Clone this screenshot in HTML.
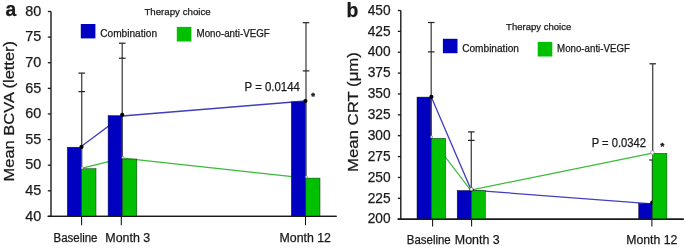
<!DOCTYPE html>
<html><head><meta charset="utf-8"><style>
html,body{margin:0;padding:0;background:#fff;}
body{width:685px;height:248px;overflow:hidden;}
svg{display:block;font-family:"Liberation Sans", sans-serif;will-change:transform;}
text{fill:#1a1a1a;stroke:#1a1a1a;stroke-width:0.25px;}
</style></head><body>
<svg width="685" height="248" viewBox="0 0 685 248">
<rect width="685" height="248" fill="#fff"/>
<line x1="51.0" y1="11.5" x2="51.0" y2="216.4" stroke="#1a1a1a" stroke-width="1.4"/>
<line x1="47.8" y1="216.4" x2="336.6" y2="216.4" stroke="#1a1a1a" stroke-width="1.4"/>
<line x1="47.8" y1="11.50" x2="51.0" y2="11.50" stroke="#1a1a1a" stroke-width="1.3"/>
<text x="41.2" y="15.70" font-size="14.4" text-anchor="end" font-weight="normal" >80</text>
<line x1="47.8" y1="37.11" x2="51.0" y2="37.11" stroke="#1a1a1a" stroke-width="1.3"/>
<text x="41.2" y="41.31" font-size="14.4" text-anchor="end" font-weight="normal" >75</text>
<line x1="47.8" y1="62.73" x2="51.0" y2="62.73" stroke="#1a1a1a" stroke-width="1.3"/>
<text x="41.2" y="66.92" font-size="14.4" text-anchor="end" font-weight="normal" >70</text>
<line x1="47.8" y1="88.34" x2="51.0" y2="88.34" stroke="#1a1a1a" stroke-width="1.3"/>
<text x="41.2" y="92.54" font-size="14.4" text-anchor="end" font-weight="normal" >65</text>
<line x1="47.8" y1="113.95" x2="51.0" y2="113.95" stroke="#1a1a1a" stroke-width="1.3"/>
<text x="41.2" y="118.15" font-size="14.4" text-anchor="end" font-weight="normal" >60</text>
<line x1="47.8" y1="139.56" x2="51.0" y2="139.56" stroke="#1a1a1a" stroke-width="1.3"/>
<text x="41.2" y="143.76" font-size="14.4" text-anchor="end" font-weight="normal" >55</text>
<line x1="47.8" y1="165.18" x2="51.0" y2="165.18" stroke="#1a1a1a" stroke-width="1.3"/>
<text x="41.2" y="169.38" font-size="14.4" text-anchor="end" font-weight="normal" >50</text>
<line x1="47.8" y1="190.79" x2="51.0" y2="190.79" stroke="#1a1a1a" stroke-width="1.3"/>
<text x="41.2" y="194.99" font-size="14.4" text-anchor="end" font-weight="normal" >45</text>
<line x1="47.8" y1="216.40" x2="51.0" y2="216.40" stroke="#1a1a1a" stroke-width="1.3"/>
<text x="41.2" y="220.60" font-size="14.4" text-anchor="end" font-weight="normal" >40</text>
<line x1="81.6" y1="216.4" x2="81.6" y2="225.20000000000002" stroke="#111" stroke-width="1.05"/>
<line x1="121.3" y1="216.4" x2="121.3" y2="225.20000000000002" stroke="#111" stroke-width="1.05"/>
<line x1="305.5" y1="216.4" x2="305.5" y2="225.20000000000002" stroke="#111" stroke-width="1.05"/>
<text x="53.5" y="241.6" font-size="12" textLength="44.0" lengthAdjust="spacingAndGlyphs">Baseline</text>
<text x="105.3" y="241.6" font-size="12" textLength="44.89999999999999" lengthAdjust="spacingAndGlyphs">Month 3</text>
<text x="279.5" y="241.6" font-size="12" textLength="51.5" lengthAdjust="spacingAndGlyphs">Month 12</text>
<polyline points="81.5,146.3 122.2,116.0 305.5,101.0" fill="none" stroke="#4040bc" stroke-width="1.3"/>
<polyline points="82.2,168.1 122.6,158.1 306,178.1" fill="none" stroke="#38bc38" stroke-width="1.2"/>
<rect x="67.3" y="147.2" width="14.200000000000003" height="69.20000000000002" fill="#0000c0" stroke="#101040" stroke-width="0.5"/>
<rect x="108.1" y="115.6" width="14.300000000000011" height="100.80000000000001" fill="#0000c0" stroke="#101040" stroke-width="0.5"/>
<rect x="291.3" y="101.9" width="14.5" height="114.5" fill="#0000c0" stroke="#101040" stroke-width="0.5"/>
<rect x="81.5" y="168.7" width="14.5" height="47.70000000000002" fill="#00c000" stroke="#103010" stroke-width="0.5"/>
<rect x="122.4" y="159.0" width="14.400000000000006" height="57.400000000000006" fill="#00c000" stroke="#103010" stroke-width="0.5"/>
<rect x="305.8" y="178.1" width="14.199999999999989" height="38.30000000000001" fill="#00c000" stroke="#103010" stroke-width="0.5"/>
<line x1="81.7" y1="168.7" x2="81.7" y2="73.1" stroke="#4c4c4c" stroke-width="1.35"/>
<line x1="78.4" y1="73.1" x2="85.0" y2="73.1" stroke="#222" stroke-width="1.2"/>
<line x1="78.4" y1="91.6" x2="85.0" y2="91.6" stroke="#222" stroke-width="1.2"/>
<line x1="122.25" y1="159" x2="122.25" y2="43.2" stroke="#4c4c4c" stroke-width="1.35"/>
<line x1="118.95" y1="43.2" x2="125.55" y2="43.2" stroke="#222" stroke-width="1.2"/>
<line x1="118.95" y1="58.2" x2="125.55" y2="58.2" stroke="#222" stroke-width="1.2"/>
<line x1="306.0" y1="178.1" x2="306.0" y2="22.7" stroke="#4c4c4c" stroke-width="1.35"/>
<line x1="302.7" y1="22.7" x2="309.3" y2="22.7" stroke="#222" stroke-width="1.2"/>
<line x1="302.7" y1="70.9" x2="309.3" y2="70.9" stroke="#222" stroke-width="1.2"/>
<circle cx="81.5" cy="146.9" r="2.1" fill="#000"/>
<circle cx="122.2" cy="114.8" r="2.1" fill="#000"/>
<circle cx="305.4" cy="101.0" r="2.1" fill="#000"/>
<circle cx="82.3" cy="167.9" r="1.1" fill="#f4f4f4" stroke="#666" stroke-width="0.5"/>
<circle cx="123.0" cy="157.4" r="1.1" fill="#f4f4f4" stroke="#666" stroke-width="0.5"/>
<circle cx="306.4" cy="177.0" r="1.1" fill="#f4f4f4" stroke="#666" stroke-width="0.5"/>
<line x1="47.8" y1="216.4" x2="336.6" y2="216.4" stroke="#1a1a1a" stroke-width="1.4"/>
<text x="5.6" y="16.2" font-size="19.3" text-anchor="start" font-weight="bold" >a</text>
<text x="0" y="0" font-size="15.4" text-anchor="middle" textLength="140.5" lengthAdjust="spacingAndGlyphs" transform="translate(14.2,111.2) rotate(-90)">Mean BCVA (letter)</text>
<text x="144.4" y="15.3" font-size="9.4" text-anchor="start" font-weight="normal" textLength="66.3" lengthAdjust="spacingAndGlyphs">Therapy choice</text>
<rect x="80.8" y="24.0" width="14.6" height="14.4" fill="#0000c0"/>
<rect x="176.8" y="26.9" width="14.6" height="14.6" fill="#00c000"/>
<text x="100.2" y="36.6" font-size="10.1" text-anchor="start" font-weight="normal" textLength="56.9" lengthAdjust="spacingAndGlyphs">Combination</text>
<text x="196.5" y="36.6" font-size="10.1" text-anchor="start" font-weight="normal" textLength="73.3" lengthAdjust="spacingAndGlyphs">Mono-anti-VEGF</text>
<text x="244.6" y="90.7" font-size="11.9" text-anchor="start" font-weight="normal" textLength="55.3" lengthAdjust="spacingAndGlyphs">P = 0.0144</text>
<text x="313.05" y="98.95" font-size="9.5" font-weight="bold" text-anchor="middle" style="stroke-width:0.5px">*</text>
<line x1="400.8" y1="10.5" x2="400.8" y2="219.2" stroke="#1a1a1a" stroke-width="1.4"/>
<line x1="397.8" y1="219.2" x2="683.7" y2="219.2" stroke="#1a1a1a" stroke-width="1.4"/>
<line x1="397.8" y1="10.50" x2="400.8" y2="10.50" stroke="#1a1a1a" stroke-width="1.3"/>
<text x="390.6" y="14.70" font-size="14.4" text-anchor="end" font-weight="normal" textLength="22.9" lengthAdjust="spacingAndGlyphs">450</text>
<line x1="397.8" y1="31.37" x2="400.8" y2="31.37" stroke="#1a1a1a" stroke-width="1.3"/>
<text x="390.6" y="35.57" font-size="14.4" text-anchor="end" font-weight="normal" textLength="22.9" lengthAdjust="spacingAndGlyphs">425</text>
<line x1="397.8" y1="52.24" x2="400.8" y2="52.24" stroke="#1a1a1a" stroke-width="1.3"/>
<text x="390.6" y="56.44" font-size="14.4" text-anchor="end" font-weight="normal" textLength="22.9" lengthAdjust="spacingAndGlyphs">400</text>
<line x1="397.8" y1="73.11" x2="400.8" y2="73.11" stroke="#1a1a1a" stroke-width="1.3"/>
<text x="390.6" y="77.31" font-size="14.4" text-anchor="end" font-weight="normal" textLength="22.9" lengthAdjust="spacingAndGlyphs">375</text>
<line x1="397.8" y1="93.98" x2="400.8" y2="93.98" stroke="#1a1a1a" stroke-width="1.3"/>
<text x="390.6" y="98.18" font-size="14.4" text-anchor="end" font-weight="normal" textLength="22.9" lengthAdjust="spacingAndGlyphs">350</text>
<line x1="397.8" y1="114.85" x2="400.8" y2="114.85" stroke="#1a1a1a" stroke-width="1.3"/>
<text x="390.6" y="119.05" font-size="14.4" text-anchor="end" font-weight="normal" textLength="22.9" lengthAdjust="spacingAndGlyphs">325</text>
<line x1="397.8" y1="135.72" x2="400.8" y2="135.72" stroke="#1a1a1a" stroke-width="1.3"/>
<text x="390.6" y="139.92" font-size="14.4" text-anchor="end" font-weight="normal" textLength="22.9" lengthAdjust="spacingAndGlyphs">300</text>
<line x1="397.8" y1="156.59" x2="400.8" y2="156.59" stroke="#1a1a1a" stroke-width="1.3"/>
<text x="390.6" y="160.79" font-size="14.4" text-anchor="end" font-weight="normal" textLength="22.9" lengthAdjust="spacingAndGlyphs">275</text>
<line x1="397.8" y1="177.46" x2="400.8" y2="177.46" stroke="#1a1a1a" stroke-width="1.3"/>
<text x="390.6" y="181.66" font-size="14.4" text-anchor="end" font-weight="normal" textLength="22.9" lengthAdjust="spacingAndGlyphs">250</text>
<line x1="397.8" y1="198.33" x2="400.8" y2="198.33" stroke="#1a1a1a" stroke-width="1.3"/>
<text x="390.6" y="202.53" font-size="14.4" text-anchor="end" font-weight="normal" textLength="22.9" lengthAdjust="spacingAndGlyphs">225</text>
<line x1="397.8" y1="219.20" x2="400.8" y2="219.20" stroke="#1a1a1a" stroke-width="1.3"/>
<text x="390.6" y="223.40" font-size="14.4" text-anchor="end" font-weight="normal" textLength="22.9" lengthAdjust="spacingAndGlyphs">200</text>
<line x1="432.6" y1="219.2" x2="432.6" y2="226.5" stroke="#111" stroke-width="1.05"/>
<line x1="471.6" y1="219.2" x2="471.6" y2="226.5" stroke="#111" stroke-width="1.05"/>
<line x1="651.9" y1="219.2" x2="651.9" y2="226.5" stroke="#111" stroke-width="1.05"/>
<text x="406.8" y="243.6" font-size="12" textLength="43.89999999999998" lengthAdjust="spacingAndGlyphs">Baseline</text>
<text x="454.8" y="243.6" font-size="12" textLength="44.89999999999998" lengthAdjust="spacingAndGlyphs">Month 3</text>
<text x="626.2" y="243.6" font-size="12" textLength="51.09999999999991" lengthAdjust="spacingAndGlyphs">Month 12</text>
<polyline points="431.2,96.8 471.2,190.1 652.4,203.9" fill="none" stroke="#4040bc" stroke-width="1.3"/>
<polyline points="431.4,138.9 470.6,190.0 652.4,153.2" fill="none" stroke="#38bc38" stroke-width="1.2"/>
<rect x="417.0" y="97.1" width="14.300000000000011" height="122.1" fill="#0000c0" stroke="#101040" stroke-width="0.5"/>
<rect x="457.2" y="190.5" width="14.199999999999989" height="28.69999999999999" fill="#0000c0" stroke="#101040" stroke-width="0.5"/>
<rect x="638.7" y="203.7" width="13.599999999999909" height="15.5" fill="#0000c0" stroke="#101040" stroke-width="0.5"/>
<line x1="652.5" y1="203.7" x2="652.5" y2="160.0" stroke="#4c4c4c" stroke-width="1.5"/>
<line x1="649.2" y1="160.0" x2="655.8" y2="160.0" stroke="#222" stroke-width="1.2"/>
<circle cx="652.3" cy="202.6" r="2.1" fill="#000"/>
<rect x="431.3" y="138.3" width="14.300000000000011" height="80.89999999999998" fill="#00c000" stroke="#103010" stroke-width="0.5"/>
<rect x="471.4" y="190.5" width="13.900000000000034" height="28.69999999999999" fill="#00c000" stroke="#103010" stroke-width="0.5"/>
<rect x="652.4" y="153.3" width="14.5" height="65.89999999999998" fill="#00c000" stroke="#103010" stroke-width="0.5"/>
<line x1="431.2" y1="138.3" x2="431.2" y2="22.5" stroke="#4c4c4c" stroke-width="1.35"/>
<line x1="427.9" y1="22.5" x2="434.5" y2="22.5" stroke="#222" stroke-width="1.2"/>
<line x1="427.9" y1="51.9" x2="434.5" y2="51.9" stroke="#222" stroke-width="1.2"/>
<line x1="471.3" y1="190.5" x2="471.3" y2="131.9" stroke="#4c4c4c" stroke-width="1.35"/>
<line x1="468.0" y1="131.9" x2="474.6" y2="131.9" stroke="#222" stroke-width="1.2"/>
<line x1="468.0" y1="140.4" x2="474.6" y2="140.4" stroke="#222" stroke-width="1.2"/>
<line x1="652.7" y1="153.3" x2="652.7" y2="63.8" stroke="#4c4c4c" stroke-width="1.35"/>
<line x1="649.4000000000001" y1="63.8" x2="656.0" y2="63.8" stroke="#222" stroke-width="1.2"/>
<circle cx="431.4" cy="96.8" r="2.1" fill="#000"/>
<circle cx="471.4" cy="189.6" r="2.1" fill="#000"/>
<circle cx="431.6" cy="136.9" r="1.1" fill="#f4f4f4" stroke="#666" stroke-width="0.5"/>
<circle cx="471.4" cy="189.2" r="1.6" fill="#f4f4f4" stroke="#666" stroke-width="0.5"/>
<circle cx="652.4" cy="152.5" r="1.9" fill="#f4f4f4" stroke="#666" stroke-width="0.5"/>
<line x1="397.8" y1="219.2" x2="683.7" y2="219.2" stroke="#1a1a1a" stroke-width="1.4"/>
<text x="346.6" y="16.5" font-size="19.3" text-anchor="start" font-weight="bold" >b</text>
<text x="0" y="0" font-size="15.4" text-anchor="middle" textLength="120.0" lengthAdjust="spacingAndGlyphs" transform="translate(357.8,112.1) rotate(-90)">Mean CRT (μm)</text>
<text x="506.1" y="29.7" font-size="9.4" text-anchor="start" font-weight="normal" textLength="65.1" lengthAdjust="spacingAndGlyphs">Therapy choice</text>
<rect x="442.9" y="38.8" width="14.6" height="14.4" fill="#0000c0"/>
<rect x="537.7" y="41.9" width="14.6" height="14.6" fill="#00c000"/>
<text x="462.2" y="52.0" font-size="10.1" text-anchor="start" font-weight="normal" textLength="56.7" lengthAdjust="spacingAndGlyphs">Combination</text>
<text x="557.1" y="52.0" font-size="10.1" text-anchor="start" font-weight="normal" textLength="72.8" lengthAdjust="spacingAndGlyphs">Mono-anti-VEGF</text>
<text x="591.7" y="146.8" font-size="11.9" text-anchor="start" font-weight="normal" textLength="54.4" lengthAdjust="spacingAndGlyphs">P = 0.0342</text>
<text x="662.3" y="149.25" font-size="9.5" font-weight="bold" text-anchor="middle" style="stroke-width:0.5px">*</text>
</svg>
</body></html>
